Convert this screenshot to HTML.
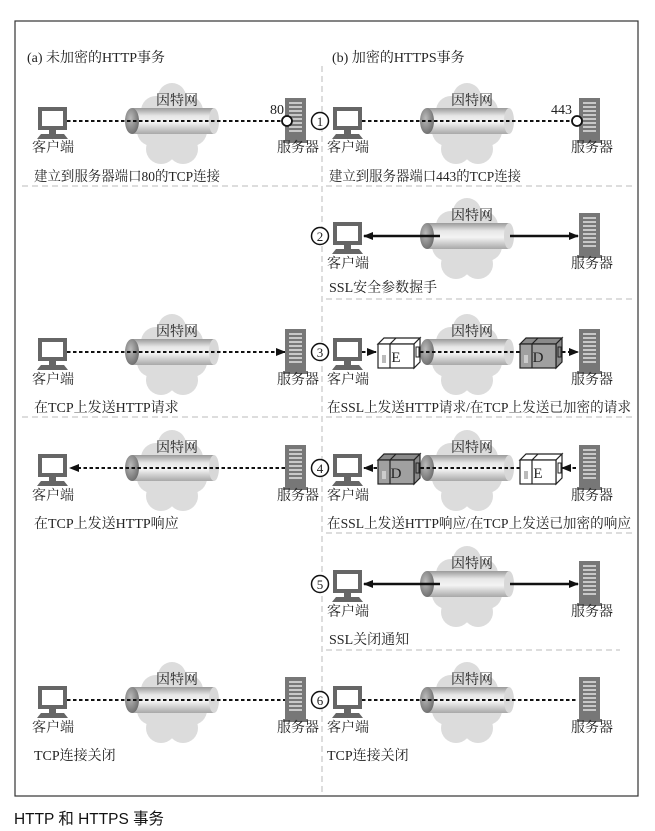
<!DOCTYPE html>
<html><head><meta charset="utf-8"><style>
html,body{margin:0;padding:0;background:#fff;}
svg{display:block;}
text{font-family:"Liberation Serif","Noto Serif CJK SC",serif;font-size:14px;fill:#222;}
.cap{font-family:"Liberation Sans","Noto Sans CJK SC",sans-serif;font-size:16px;fill:#111;}
</style></head><body>
<svg width="655" height="831" viewBox="0 0 655 831" xmlns="http://www.w3.org/2000/svg">
<defs>
<linearGradient id="tg" x1="0" y1="0" x2="0" y2="1">
<stop offset="0" stop-color="#9a9a9a"/><stop offset="0.3" stop-color="#e6e6e6"/><stop offset="0.55" stop-color="#f4f4f4"/><stop offset="1" stop-color="#a8a8a8"/>
</linearGradient>
<radialGradient id="eg" cx="0.4" cy="0.4" r="0.7"><stop offset="0" stop-color="#bbb"/><stop offset="1" stop-color="#666"/></radialGradient>
<g id="cloud" fill="#dcdcdc">
<circle cx="0" cy="-24" r="14"/><circle cx="-16" cy="-10" r="15"/><circle cx="16" cy="-10" r="15"/>
<circle cx="-20" cy="10" r="15"/><circle cx="20" cy="10" r="15"/><circle cx="-11" cy="28" r="15"/>
<circle cx="11" cy="28" r="15"/><circle cx="0" cy="4" r="22"/>
</g>
<g id="tube">
<rect x="-40" y="-13" width="82" height="26" fill="url(#tg)"/>
<ellipse cx="42" cy="0" rx="5" ry="13" fill="#d8d8d8"/>
<ellipse cx="-40" cy="0" rx="7" ry="13" fill="url(#eg)"/>
</g>
<g id="client">
<rect x="0" y="-14" width="29" height="23" fill="#666"/>
<rect x="4" y="-10" width="21" height="15" fill="#fff"/>
<rect x="11" y="9" width="7" height="4" fill="#666"/>
<polygon points="3,13 26,13 30,18 -1,18" fill="#666"/>
</g>
<g id="server">
<rect x="0" y="-23" width="21" height="42" fill="#777"/>
<g stroke="#fff" stroke-width="1.2">
<line x1="4" y1="-18" x2="17" y2="-18"/><line x1="4" y1="-14" x2="17" y2="-14"/><line x1="4" y1="-10" x2="17" y2="-10"/>
<line x1="4" y1="-6" x2="17" y2="-6"/><line x1="4" y1="-2" x2="17" y2="-2"/><line x1="4" y1="2" x2="17" y2="2"/>
<line x1="4" y1="6" x2="17" y2="6"/><line x1="4" y1="10" x2="17" y2="10"/>
</g>
<rect x="-2" y="19" width="25" height="3" fill="#777"/>
</g>
<g id="boxW" stroke="#222" stroke-width="1.2">
<polygon points="0,-9 6,-15 42,-15 36,-9" fill="#fff"/>
<polygon points="36,-9 42,-15 42,9 36,15" fill="#fff"/>
<rect x="0" y="-9" width="36" height="24" fill="#fff"/>
<line x1="12" y1="-9" x2="12" y2="15"/><line x1="18" y1="-15" x2="12" y2="-9"/>
<rect x="38" y="-6" width="3" height="10" fill="none" stroke-width="1"/>
<rect x="4" y="2" width="4" height="8" fill="#bbb" stroke="none"/>
</g>
<g id="boxG" stroke="#222" stroke-width="1.2">
<polygon points="0,-9 6,-15 42,-15 36,-9" fill="#8a8a8a"/>
<polygon points="36,-9 42,-15 42,9 36,15" fill="#8a8a8a"/>
<rect x="0" y="-9" width="36" height="24" fill="#a0a0a0"/>
<line x1="12" y1="-9" x2="12" y2="15"/><line x1="18" y1="-15" x2="12" y2="-9"/>
<rect x="38" y="-6" width="3" height="10" fill="none" stroke-width="1"/>
<rect x="4" y="2" width="4" height="8" fill="#ccc" stroke="none"/>
</g>
<marker id="ah" markerWidth="10" markerHeight="10" refX="9" refY="5" orient="auto" markerUnits="userSpaceOnUse"><polygon points="0,1 10,5 0,9" fill="#111"/></marker>
</defs>

<rect x="15" y="21" width="623" height="775" fill="none" stroke="#333" stroke-width="1.2"/>
<line x1="322" y1="66" x2="322" y2="792" stroke="#bbb" stroke-width="1" stroke-dasharray="6,4"/>
<g stroke="#bbb" stroke-width="1" stroke-dasharray="6,4">
<line x1="22" y1="186" x2="318" y2="186"/><line x1="326" y1="186" x2="632" y2="186"/>
<line x1="326" y1="299" x2="632" y2="299"/>
<line x1="22" y1="417" x2="318" y2="417"/><line x1="326" y1="417" x2="632" y2="417"/>
<line x1="326" y1="533" x2="632" y2="533"/>
<line x1="326" y1="650" x2="620" y2="650"/>
</g>

<text x="27" y="62">(a) 未加密的HTTP事务</text>
<text x="332" y="62">(b) 加密的HTTPS事务</text>

<!-- clouds and tubes -->
<g>
<use href="#cloud" x="172" y="121"/><use href="#cloud" x="467" y="121"/>
<use href="#cloud" x="467" y="236"/>
<use href="#cloud" x="172" y="352"/><use href="#cloud" x="467" y="352"/>
<use href="#cloud" x="172" y="468"/><use href="#cloud" x="467" y="468"/>
<use href="#cloud" x="467" y="584"/>
<use href="#cloud" x="172" y="700"/><use href="#cloud" x="467" y="700"/>
<use href="#tube" x="172" y="121"/><use href="#tube" x="467" y="121"/>
<use href="#tube" x="467" y="236"/>
<use href="#tube" x="172" y="352"/><use href="#tube" x="467" y="352"/>
<use href="#tube" x="172" y="468"/><use href="#tube" x="467" y="468"/>
<use href="#tube" x="467" y="584"/>
<use href="#tube" x="172" y="700"/><use href="#tube" x="467" y="700"/>
</g>
<g text-anchor="middle">
<text x="177" y="105">因特网</text><text x="472" y="105">因特网</text>
<text x="472" y="220">因特网</text>
<text x="177" y="336">因特网</text><text x="472" y="336">因特网</text>
<text x="177" y="452">因特网</text><text x="472" y="452">因特网</text>
<text x="472" y="568">因特网</text>
<text x="177" y="684">因特网</text><text x="472" y="684">因特网</text>
</g>

<!-- connectors -->
<g stroke="#111" stroke-width="2" stroke-dasharray="3.5,2.5" fill="none">
<line x1="67" y1="121" x2="282" y2="121"/><line x1="362" y1="121" x2="572" y2="121"/>
<line x1="67" y1="352" x2="285" y2="352" marker-end="url(#ah)"/>
<line x1="362" y1="352" x2="376" y2="352" marker-end="url(#ah)"/>
<line x1="420" y1="352" x2="520" y2="352"/>
<line x1="562" y1="352" x2="578" y2="352" marker-end="url(#ah)"/>
<line x1="285" y1="468" x2="70" y2="468" marker-end="url(#ah)"/>
<line x1="576" y1="468" x2="562" y2="468" marker-end="url(#ah)"/>
<line x1="520" y1="468" x2="420" y2="468"/>
<line x1="377" y1="468" x2="364" y2="468" marker-end="url(#ah)"/>
<line x1="67" y1="700" x2="285" y2="700"/><line x1="362" y1="700" x2="578" y2="700"/>
</g>
<g stroke="#111" stroke-width="2.5" fill="none">
<line x1="440" y1="236" x2="364" y2="236" marker-end="url(#ah)"/>
<line x1="510" y1="236" x2="578" y2="236" marker-end="url(#ah)"/>
<line x1="440" y1="584" x2="364" y2="584" marker-end="url(#ah)"/>
<line x1="510" y1="584" x2="578" y2="584" marker-end="url(#ah)"/>
</g>

<!-- boxes -->
<use href="#boxW" x="378" y="353"/><use href="#boxG" x="520" y="353"/>
<use href="#boxG" x="378" y="469"/><use href="#boxW" x="520" y="469"/>
<g text-anchor="middle" font-size="15">
<text x="396" y="362" style="font-size:15px">E</text><text x="538" y="362" style="font-size:15px">D</text>
<text x="396" y="478" style="font-size:15px">D</text><text x="538" y="478" style="font-size:15px">E</text>
</g>

<!-- clients and servers -->
<g>
<use href="#client" x="38" y="121"/><use href="#client" x="333" y="121"/>
<use href="#client" x="333" y="236"/>
<use href="#client" x="38" y="352"/><use href="#client" x="333" y="352"/>
<use href="#client" x="38" y="468"/><use href="#client" x="333" y="468"/>
<use href="#client" x="333" y="584"/>
<use href="#client" x="38" y="700"/><use href="#client" x="333" y="700"/>
<use href="#server" x="285" y="121"/><use href="#server" x="579" y="121"/>
<use href="#server" x="579" y="236"/>
<use href="#server" x="285" y="352"/><use href="#server" x="579" y="352"/>
<use href="#server" x="285" y="468"/><use href="#server" x="579" y="468"/>
<use href="#server" x="579" y="584"/>
<use href="#server" x="285" y="700"/><use href="#server" x="579" y="700"/>
</g>
<circle cx="287" cy="121" r="5" fill="#fff" stroke="#111" stroke-width="1.8"/>
<circle cx="577" cy="121" r="5" fill="#fff" stroke="#111" stroke-width="1.8"/>
<text x="270" y="114">80</text><text x="551" y="114">443</text>

<!-- number circles -->
<g fill="#fff" stroke="#111" stroke-width="1.5">
<circle cx="320" cy="121" r="8.5"/><circle cx="320" cy="236" r="8.5"/><circle cx="320" cy="352" r="8.5"/>
<circle cx="320" cy="468" r="8.5"/><circle cx="320" cy="584" r="8.5"/><circle cx="320" cy="700" r="8.5"/>
</g>
<g text-anchor="middle" style="font-size:13px">
<text x="320" y="126" style="font-size:13px">1</text><text x="320" y="241" style="font-size:13px">2</text>
<text x="320" y="357" style="font-size:13px">3</text><text x="320" y="473" style="font-size:13px">4</text>
<text x="320" y="589" style="font-size:13px">5</text><text x="320" y="705" style="font-size:13px">6</text>
</g>

<!-- labels -->
<g>
<text x="32" y="152">客户端</text><text x="327" y="152">客户端</text><text x="277" y="152">服务器</text><text x="571" y="152">服务器</text>
<text x="327" y="268">客户端</text><text x="571" y="268">服务器</text>
<text x="32" y="384">客户端</text><text x="327" y="384">客户端</text><text x="277" y="384">服务器</text><text x="571" y="384">服务器</text>
<text x="32" y="500">客户端</text><text x="327" y="500">客户端</text><text x="277" y="500">服务器</text><text x="571" y="500">服务器</text>
<text x="327" y="616">客户端</text><text x="571" y="616">服务器</text>
<text x="32" y="732">客户端</text><text x="327" y="732">客户端</text><text x="277" y="732">服务器</text><text x="571" y="732">服务器</text>
</g>
<g>
<text x="34" y="181" textLength="186" lengthAdjust="spacingAndGlyphs">建立到服务器端口80的TCP连接</text>
<text x="329" y="181" textLength="192" lengthAdjust="spacingAndGlyphs">建立到服务器端口443的TCP连接</text>
<text x="329" y="292">SSL安全参数握手</text>
<text x="34" y="412">在TCP上发送HTTP请求</text>
<text x="327" y="412" textLength="304" lengthAdjust="spacingAndGlyphs">在SSL上发送HTTP请求/在TCP上发送已加密的请求</text>
<text x="34" y="528">在TCP上发送HTTP响应</text>
<text x="327" y="528" textLength="304" lengthAdjust="spacingAndGlyphs">在SSL上发送HTTP响应/在TCP上发送已加密的响应</text>
<text x="329" y="644">SSL关闭通知</text>
<text x="34" y="760">TCP连接关闭</text>
<text x="327" y="760">TCP连接关闭</text>
</g>

<text class="cap" x="14" y="824" textLength="150" lengthAdjust="spacingAndGlyphs">HTTP 和 HTTPS 事务</text>
</svg>
</body></html>
